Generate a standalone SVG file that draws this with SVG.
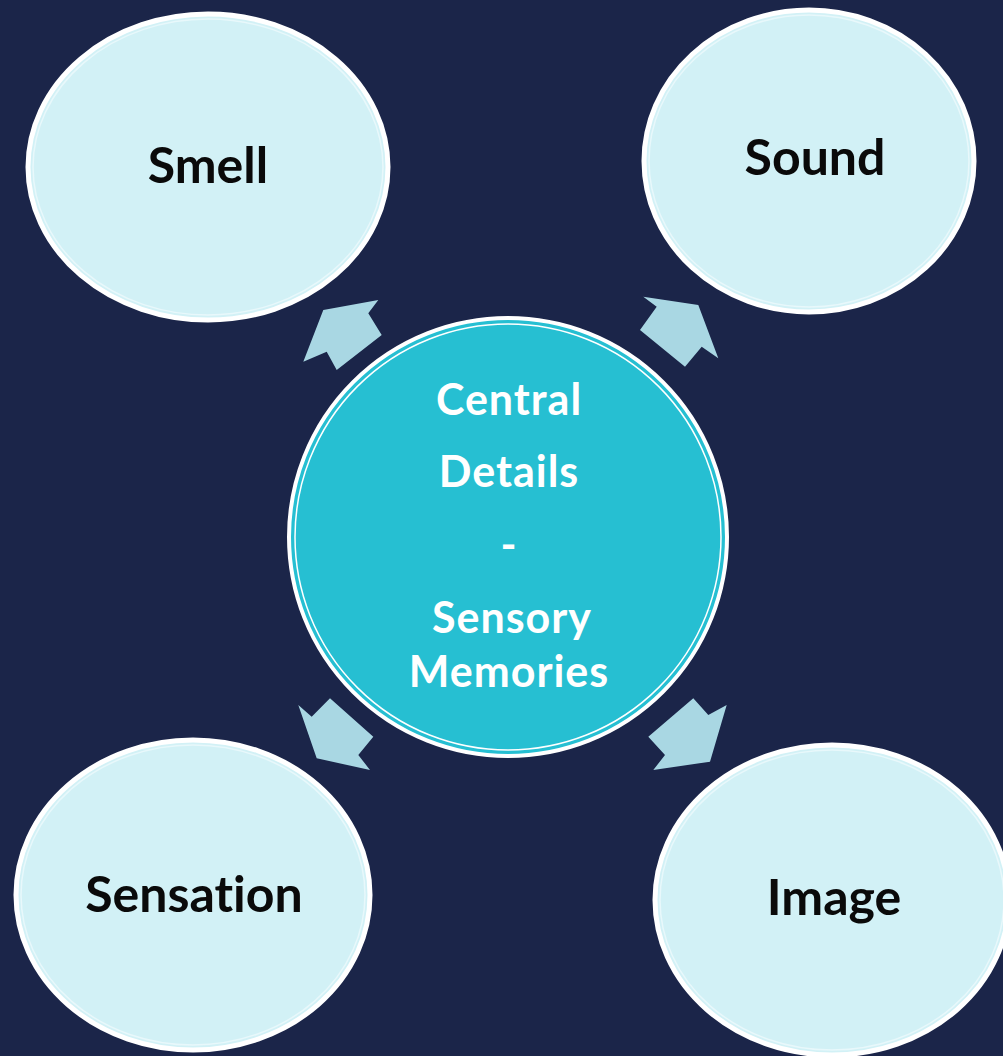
<svg xmlns="http://www.w3.org/2000/svg" width="1003" height="1056" viewBox="0 0 1003 1056">
<style>
.bg{fill:#1b2549}
.sat{fill:#d2f1f6;stroke:#ffffff;stroke-width:5}
.sat-in{fill:none;stroke:#e8f8fb;stroke-width:1.5}
.arrow{fill:#a9d7e3}
.lbl{font-family:Lato,"Open Sans","DejaVu Sans",sans-serif;font-weight:700;font-size:50px;fill:#0a0a0a;text-anchor:middle;font-variant-ligatures:none}
.ctr{font-family:Lato,"Open Sans","DejaVu Sans",sans-serif;font-weight:700;font-size:43px;letter-spacing:1px;fill:#ffffff;text-anchor:middle;font-variant-ligatures:none}
</style>
<rect class="bg" x="0" y="0" width="1003" height="1056"/>
<g id="connectors">
<polygon class="arrow" points="323.3,310 378.3,300 368.3,313.3 381.7,335 336.7,370 326.7,351.7 303.3,361.7"/>
<polygon class="arrow" points="643.3,296.7 698.3,305 718.3,358.3 701.7,346.7 685,366.7 640,330 656.7,306.7"/>
<polygon class="arrow" points="298.3,705 311.7,716.7 330,698.3 373.3,736.7 358.3,755 370,770 316.7,758.3"/>
<polygon class="arrow" points="693.3,698.3 708.3,715 726.7,705 710,761.7 653.3,770 665,755 648.3,736.7"/>
</g>
<g id="smell">
<ellipse class="sat" cx="208" cy="167" rx="180" ry="153"/>
<ellipse class="sat-in" cx="208" cy="167" rx="175" ry="148"/>
<text class="lbl" x="208" y="183">Smell</text>
</g>
<g id="sound">
<ellipse class="sat" cx="809" cy="161" rx="165" ry="151"/>
<ellipse class="sat-in" cx="809" cy="161" rx="160" ry="146"/>
<text class="lbl" x="815" y="175">Sound</text>
</g>
<g id="sensation">
<ellipse class="sat" cx="193" cy="895" rx="177" ry="155"/>
<ellipse class="sat-in" cx="193" cy="895" rx="172" ry="150"/>
<text class="lbl" x="194" y="912">Sensation</text>
</g>
<g id="image">
<ellipse class="sat" cx="832" cy="900" rx="177" ry="155"/>
<ellipse class="sat-in" cx="832" cy="900" rx="172" ry="150"/>
<text class="lbl" x="834" y="915">Image</text>
</g>
<g id="central">
<circle cx="508" cy="537" r="219" fill="#26bfd2" stroke="#ffffff" stroke-width="4"/>
<circle cx="508" cy="537" r="213" fill="none" stroke="#ffffff" stroke-width="1.5"/>
<text class="ctr" x="509" y="415">Central</text>
<text class="ctr" x="509" y="487">Details</text>
<text class="ctr" x="509" y="560">-</text>
<text class="ctr" x="512" y="633">Sensory</text>
<text class="ctr" x="509" y="687">Memories</text>
</g>
</svg>
